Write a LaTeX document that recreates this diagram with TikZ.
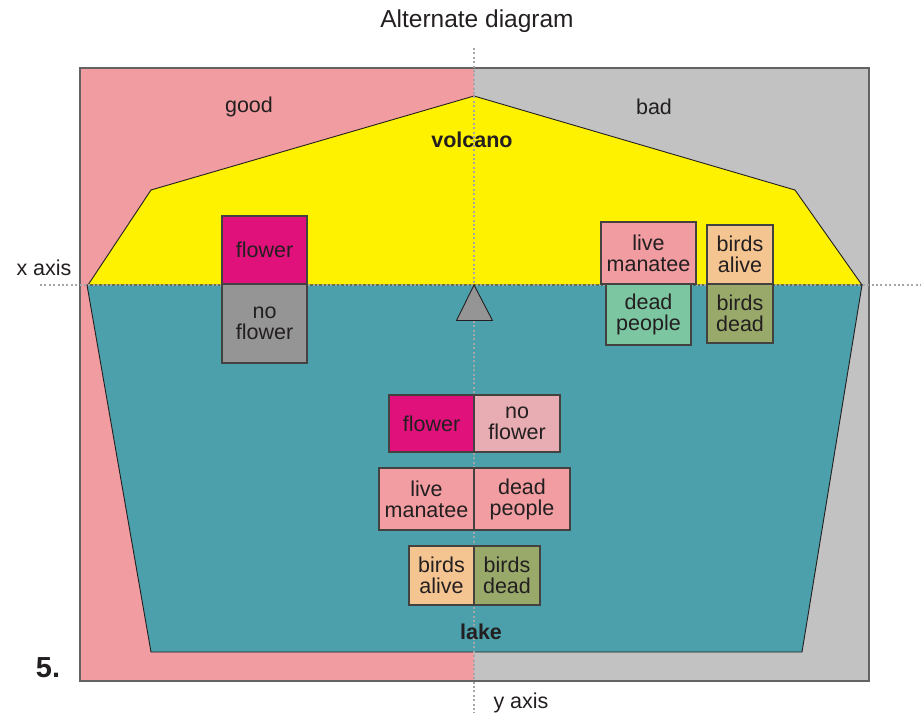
\documentclass[tikz,border=0pt]{standalone}
\usepackage{fontspec}
\setmainfont{Liberation Sans}
\definecolor{bgpink}{HTML}{F09CA0}
\definecolor{bggray}{HTML}{C2C2C2}
\definecolor{volc}{HTML}{FFF200}
\definecolor{lakec}{HTML}{4BA0AB}
\definecolor{magent}{HTML}{E0117A}
\definecolor{boxgray}{HTML}{959595}
\definecolor{lpink}{HTML}{E8ADB2}
\definecolor{mpink}{HTML}{F29DA1}
\definecolor{dgreen}{HTML}{7DC6A2}
\definecolor{borange}{HTML}{F5C591}
\definecolor{bolive}{HTML}{98A96A}
\definecolor{txt}{HTML}{231F20}
\definecolor{dotc}{HTML}{A6A6A6}
\begin{document}
\begin{tikzpicture}[x=1pt,y=-1pt,
  lbl/.style={text=txt,font=\fontsize{21.5}{21}\selectfont,inner sep=0pt,align=center},
  blbl/.style={text=txt,font=\fontsize{21.5}{21}\selectfont\bfseries,inner sep=0pt},
  cbox/.style={draw=txt!85,line width=1.1pt,text=txt,font=\fontsize{21.5}{21}\selectfont,inner sep=0pt,align=center,minimum width=#1},
  axisdot/.style={draw=dotc,line width=2pt,dash pattern=on 2pt off 2.4pt},
  edge/.style={draw=txt,line width=0.9pt,line join=miter}]
\useasboundingbox (0,0) rectangle (921,713);
% background halves
\fill[bgpink] (80,68) rectangle (474,681);
\fill[bggray] (474,68) rectangle (869,681);
\draw[draw=txt!70,line width=1.3pt] (80,68) rectangle (869,681);
% volcano
\path[fill=volc,edge] (88,285) -- (151,190) -- (474,96) -- (795,190) -- (862,285) -- cycle;
% lake
\path[fill=lakec,edge] (87,285) -- (862,285) -- (802,652) -- (151,652) -- cycle;
% axes
\coordinate (ytop) at (474,48);
\coordinate (ybot) at (474,713);
\coordinate (xl) at (40,285);
\coordinate (xr) at (921,285);
\draw[axisdot] (ytop) -- (ybot);
\draw[axisdot] (xl) -- (xr);
% labels
\node[lbl,font=\fontsize{24.5}{24}\selectfont] (title) at (477,21) {Alternate diagram};
\node[lbl] (good) at (249,107) {good};
\node[lbl] (bad) at (654,107) {bad};
\node[blbl] (volcano) at (472,140) {volcano};
\node[blbl] (lake) at (481,632) {lake};
\node[lbl] (xaxis) at (44,268) {x axis};
\node[lbl] (yaxis) at (521,703) {y axis};
\node[blbl,font=\fontsize{29}{29}\selectfont\bfseries] (five) at (48,668) {5.};
% upper boxes
\node[cbox=85pt,minimum height=68pt,fill=magent] (flA) at (264.5,250) {flower};
\node[cbox=85pt,minimum height=79pt,fill=boxgray] (nflA) at (264.5,323.5) {no\\flower};
\node[cbox=95pt,minimum height=62pt,fill=bgpink] (lmA) at (648.5,253) {live\\manatee};
\node[cbox=66pt,minimum height=59pt,fill=borange] (baA) at (740,254.5) {birds\\alive};
\node[cbox=85pt,minimum height=61pt,fill=dgreen] (dpA) at (648.5,314.5) {dead\\people};
\node[cbox=66pt,minimum height=59pt,fill=bolive] (bdA) at (740,313.5) {birds\\dead};
% lower boxes
\node[cbox=85pt,minimum height=57pt,fill=magent] (flB) at (431.5,423.5) {flower};
\node[cbox=86pt,minimum height=57pt,fill=lpink] (nflB) at (517,423.5) {no\\flower};
\node[cbox=95pt,minimum height=62pt,fill=mpink] (lmB) at (426.5,499) {live\\manatee};
\node[cbox=96pt,minimum height=62pt,fill=mpink] (dpB) at (522,499) {dead\\people};
\node[cbox=65pt,minimum height=59pt,fill=borange] (baB) at (441.5,575.5) {birds\\alive};
\node[cbox=66pt,minimum height=59pt,fill=bolive] (bdB) at (507,575.5) {birds\\dead};
% fulcrum triangle
\path[fill=boxgray,draw=txt,line width=0.9pt,line join=miter] (474,285) -- (492.5,320.5) -- (456.5,320.5) -- cycle;
\end{tikzpicture}
\end{document}
